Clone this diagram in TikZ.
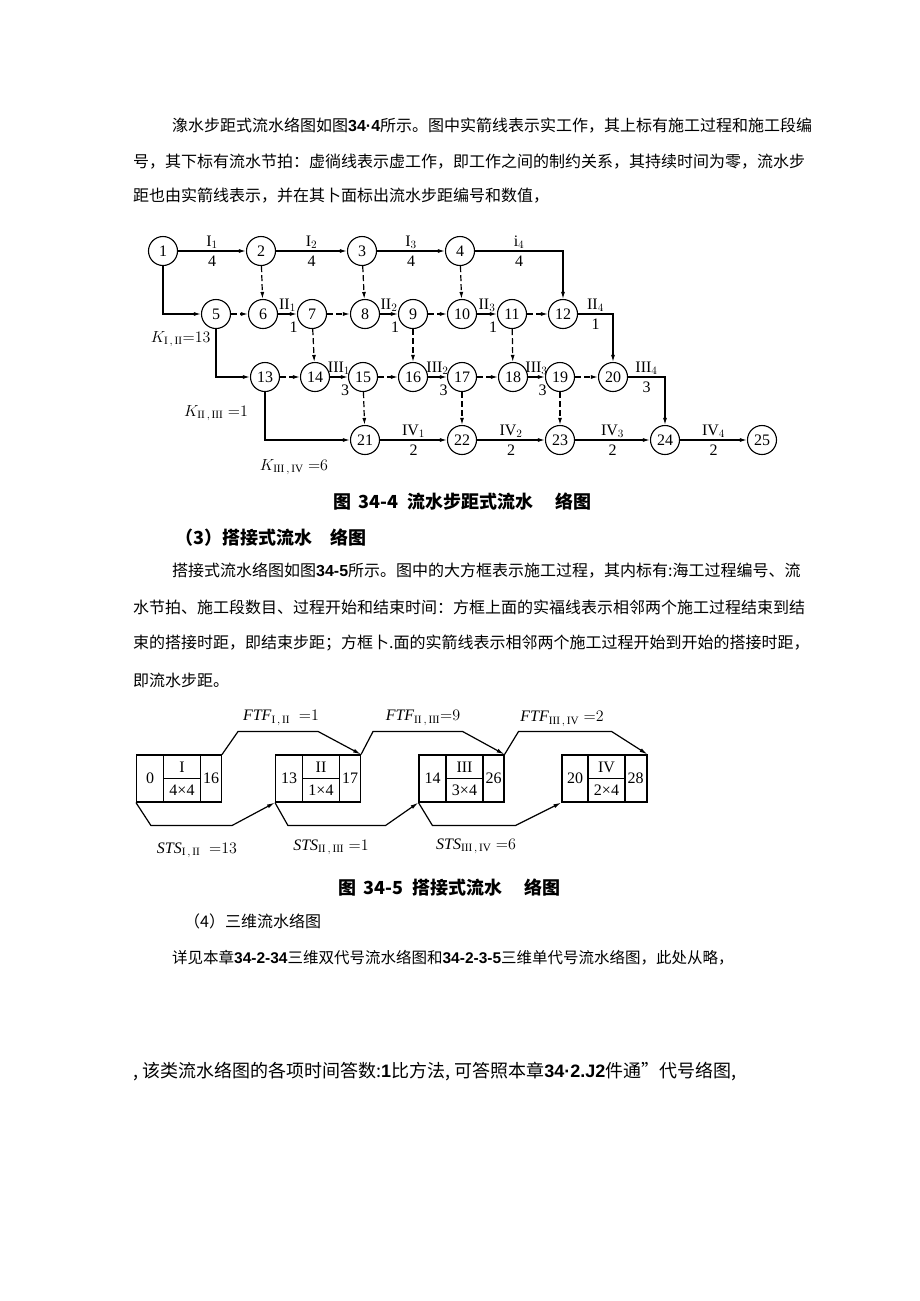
\RequirePackage{fix-cm}
\documentclass[tikz,border=0pt]{standalone}
\usepackage{fontspec}
\usepackage{amsmath}
\setmainfont{Liberation Serif}
\newfontfamily\cjk{Noto Sans CJK SC}
\newfontfamily\numf{Liberation Sans}
\usetikzlibrary{arrows.meta,calc}
\XeTeXlinebreaklocale "zh"
\XeTeXlinebreakskip=0pt plus 4pt minus 0.5pt
\newcommand\numtxt[1]{{\numf\bfseries #1}}

\begin{document}
\begin{tikzpicture}[x=1pt, y=-1pt, every node/.style={font=\fontsize{16}{16}\selectfont},
  ev/.style={circle, draw, line width=1.1pt, minimum size=29pt, inner sep=0pt},
  job/.style={line width=1.2pt, -{Latex[length=7pt,width=4pt]}},
  dum/.style={job, dash pattern=on 6pt off 3pt},
  lab/.style={inner sep=1.5pt},
  dur/.style={below, inner sep=1.5pt, yshift=-3pt},
  durs/.style={below, inner sep=1.5pt, xshift=6pt, yshift=-6pt},
  txt/.style={anchor=west, inner sep=0pt, font=\fontsize{16}{16}\selectfont\cjk},
  figcap/.style={inner sep=0pt, font=\fontsize{18}{18}\selectfont\cjk\bfseries},
  box/.style={draw, line width=1.1pt, minimum width=85pt, minimum height=47pt, inner sep=0pt},
  link/.style={line width=1.2pt, -{Latex[length=8pt,width=4pt]}}]
% page
\fill[white] (0,0) rectangle (920,1301);
\useasboundingbox (0,0) rectangle (920,1301);
% text above fig 34-4
\node[txt] (t1) at (172,126) {\makebox[648pt][s]{潒水步距式流水络图如图\numtxt{34·4}所示。图中实箭线表示实工作，其上标有施工过程和施工段编}};
\node[txt] (t2) at (133,162) {\makebox[687pt][s]{号，其下标有流水节拍：虚徜线表示虚工作，即工作之间的制约关系，其持续时间为零，流水步}};
\node[txt] (t3) at (133,196) {距也由实箭线表示，并在其卜面标出流水步距编号和数值，};
% events of fig 34-4
\node[ev] (n1) at (163,251) {1};
\node[ev] (n2) at (261,251) {2};
\node[ev] (n3) at (362,251) {3};
\node[ev] (n4) at (460,251) {4};
\node[ev] (n5) at (216,314) {5};
\node[ev] (n6) at (263,314) {6};
\node[ev] (n7) at (312,314) {7};
\node[ev] (n8) at (365,314) {8};
\node[ev] (n9) at (413,314) {9};
\node[ev] (n10) at (462,314) {10};
\node[ev] (n11) at (512,314) {11};
\node[ev] (n12) at (563,314) {12};
\node[ev] (n13) at (265,377) {13};
\node[ev] (n14) at (315,377) {14};
\node[ev] (n15) at (363,377) {15};
\node[ev] (n16) at (413,377) {16};
\node[ev] (n17) at (462,377) {17};
\node[ev] (n18) at (513,377) {18};
\node[ev] (n19) at (560,377) {19};
\node[ev] (n20) at (613,377) {20};
\node[ev] (n21) at (365,440) {21};
\node[ev] (n22) at (462,440) {22};
\node[ev] (n23) at (560,440) {23};
\node[ev] (n24) at (665,440) {24};
\node[ev] (n25) at (762,440) {25};
% process I
\draw[job] (n1) -- (n2) node[midway, above, lab] {$\mathrm{I}_1$} node[midway, dur] {4};
\draw[job] (n2) -- (n3) node[midway, above, lab] {$\mathrm{I}_2$} node[midway, dur] {4};
\draw[job] (n3) -- (n4) node[midway, above, lab] {$\mathrm{I}_3$} node[midway, dur] {4};
\draw[job] (n4) -| (n12) node[pos=.25, above, lab] {$\mathrm{i}_4$} node[pos=.25, dur] {4};
% process II
\draw[job] (n6) -- (n7) node[midway, above, lab] {$\mathrm{II}_1$} node[midway, durs] {1};
\draw[job] (n8) -- (n9) node[midway, above, lab] {$\mathrm{II}_2$} node[midway, durs] {1};
\draw[job] (n10) -- (n11) node[midway, above, lab] {$\mathrm{II}_3$} node[midway, durs] {1};
\draw[job] (n12) -| (n20) node[pos=.25, above, lab] {$\mathrm{II}_4$} node[pos=.25, dur] {1};
% process III
\draw[job] (n14) -- (n15) node[midway, above, lab] {$\mathrm{III}_1$} node[midway, durs] {3};
\draw[job] (n16) -- (n17) node[midway, above, lab] {$\mathrm{III}_2$} node[midway, durs] {3};
\draw[job] (n18) -- (n19) node[midway, above, lab] {$\mathrm{III}_3$} node[midway, durs] {3};
\draw[job] (n20) -| (n24) node[pos=.25, above, lab] {$\mathrm{III}_4$} node[pos=.25, dur] {3};
% process IV
\draw[job] (n21) -- (n22) node[midway, above, lab] {$\mathrm{IV}_1$} node[midway, dur] {2};
\draw[job] (n22) -- (n23) node[midway, above, lab] {$\mathrm{IV}_2$} node[midway, dur] {2};
\draw[job] (n23) -- (n24) node[midway, above, lab] {$\mathrm{IV}_3$} node[midway, dur] {2};
\draw[job] (n24) -- (n25) node[midway, above, lab] {$\mathrm{IV}_4$} node[midway, dur] {2};
% flow steps
\draw[job] (n1) |- (n5);
\draw[job] (n5) |- (n13);
\draw[job] (n13) |- (n21);
\node[anchor=east] (k1) at (214,339) {$K_{\mathrm{I}\,,\,\mathrm{II}}{=}13$};
\node (k2) at (216,413) {$K_{\mathrm{II}\,,\,\mathrm{III}}\;{=}1$};
\node (k3) at (294,467) {$K_{\mathrm{III}\,,\,\mathrm{IV}}\;{=}6$};
% dummy works
\draw[dum] (n2) -- (n6);
\draw[dum] (n3) -- (n8);
\draw[dum] (n4) -- (n10);
\draw[dum] (n7) -- (n14);
\draw[dum] (n9) -- (n16);
\draw[dum] (n11) -- (n18);
\draw[dum] (n15) -- (n21);
\draw[dum] (n17) -- (n22);
\draw[dum] (n19) -- (n23);
\draw[dum] (n5) -- (n6);
\draw[dum] (n7) -- (n8);
\draw[dum] (n9) -- (n10);
\draw[dum] (n11) -- (n12);
\draw[dum] (n13) -- (n14);
\draw[dum] (n15) -- (n16);
\draw[dum] (n17) -- (n18);
\draw[dum] (n19) -- (n20);
% caption
\node[figcap, anchor=west] (c1) at (333,502) {图\hspace{7pt}34-4\hspace{10pt}流水步距式流水\hspace{22pt}络图};
% text between the figures
\node[txt, font=\fontsize{18}{18}\selectfont\cjk\bfseries] (h3) at (175,538) {（3）搭接式流水\quad 络图};
\node[txt] (t4) at (172,571) {\makebox[648pt][s]{搭接式流水络图如图\numtxt{34-5}所示。图中的大方框表示施工过程，其内标有:海工过程编号、流}};
\node[txt] (t5) at (133,607) {\makebox[687pt][s]{水节拍、施工段数目、过程开始和结束时间：方框上面的实福线表示相邻两个施工过程结束到结}};
\node[txt] (t6) at (133,643) {\makebox[687pt][s]{束的搭接时距，即结束步距；方框卜.面的实箭线表示相邻两个施工过程开始到开始的搭接时距，}};
\node[txt] (t7) at (133,680) {即流水步距。};
% boxes of fig 34-5
\node[box] (b1) at (179,778.5) {};
\draw[line width=1.1pt] (163.5,755) -- (163.5,802);
\draw[line width=1.1pt] (200.5,755) -- (200.5,802);
\draw[line width=1.1pt] (163.5,778.5) -- (200.5,778.5);
\node (s1) at (150,778.5) {0};
\node (p1) at (182,767) {I};
\node (m1) at (182,790) {4×4};
\node (e1) at (211,778.5) {16};
\node[box] (b2) at (318,778.5) {};
\draw[line width=1.1pt] (302.5,755) -- (302.5,802);
\draw[line width=1.1pt] (339.5,755) -- (339.5,802);
\draw[line width=1.1pt] (302.5,778.5) -- (339.5,778.5);
\node (s2) at (289,778.5) {13};
\node (p2) at (321,767) {II};
\node (m2) at (321,790) {1×4};
\node (e2) at (350,778.5) {17};
\node[box] (b3) at (461.5,778.5) {};
\draw[line width=1.1pt] (446,755) -- (446,802);
\draw[line width=1.1pt] (483,755) -- (483,802);
\draw[line width=1.1pt] (446,778.5) -- (483,778.5);
\node (s3) at (432.5,778.5) {14};
\node (p3) at (464.5,767) {III};
\node (m3) at (464.5,790) {3×4};
\node (e3) at (493.5,778.5) {26};
\node[box] (b4) at (604.5,778.5) {};
\draw[line width=1.1pt] (588,755) -- (588,802);
\draw[line width=1.1pt] (625,755) -- (625,802);
\draw[line width=1.1pt] (588,778.5) -- (625,778.5);
\node (s4) at (575,778.5) {20};
\node (p4) at (606.5,767) {IV};
\node (m4) at (606.5,790) {2×4};
\node (e4) at (635.5,778.5) {28};
% finish to finish
\draw[link] (b1.north east) -- ++(16,-23) -- ($(b2.north east)+(-43,-23)$) -- (b2.north east);
\draw[link] (b2.north east) -- ++(12,-23) -- ($(b3.north east)+(-42,-23)$) -- (b3.north east);
\draw[link] (b3.north east) -- ++(14,-23) -- ($(b4.north east)+(-36,-23)$) -- (b4.north east);
\node (ftf1) at (281,718) {$\mathit{FTF}_{\mathrm{I}\,,\,\mathrm{II}}\;\;{=}1$};
\node (ftf2) at (423,718) {$\mathit{FTF}_{\mathrm{II}\,,\,\mathrm{III}}{=}9$};
\node (ftf3) at (562,719) {$\mathit{FTF}_{\mathrm{III}\,,\,\mathrm{IV}}\;{=}2$};
% start to start
\draw[link] (b1.south west) -- ++(15,23) -- ($(b2.south west)+(-43,23)$) -- (b2.south west);
\draw[link] (b2.south west) -- ++(13,23) -- ($(b3.south west)+(-33,23)$) -- (b3.south west);
\draw[link] (b3.south west) -- ++(14,23) -- ($(b4.south west)+(-46,23)$) -- (b4.south west);
\node (sts1) at (197,850) {$\mathit{STS}_{\mathrm{I}\,,\,\mathrm{II}}\;\;{=}13$};
\node (sts2) at (331,847) {$\mathit{STS}_{\mathrm{II}\,,\,\mathrm{III}}\;{=}1$};
\node (sts3) at (476,846) {$\mathit{STS}_{\mathrm{III}\,,\,\mathrm{IV}}\;{=}6$};
% caption
\node[figcap, anchor=west] (c2) at (338,888) {图\hspace{7pt}34-5\hspace{10pt}搭接式流水\hspace{22pt}络图};
% text below
\node[txt] (h4) at (184,921) {（4）三维流水络图};
\node[txt, font=\fontsize{15.5}{15.5}\selectfont\cjk] (t8) at (172,958) {详见本章\numtxt{34-2-34}三维双代号流水络图和\numtxt{34-2-3-5}三维单代号流水络图，此处从略，};
\node[txt, font=\fontsize{18}{18}\selectfont\cjk] (t9) at (133,1072) {, 该类流水络图的各项时间答数:\numtxt{1}比方法, 可答照本章\numtxt{34·2.J2}件通”代号络图,};
\end{tikzpicture}
\end{document}
